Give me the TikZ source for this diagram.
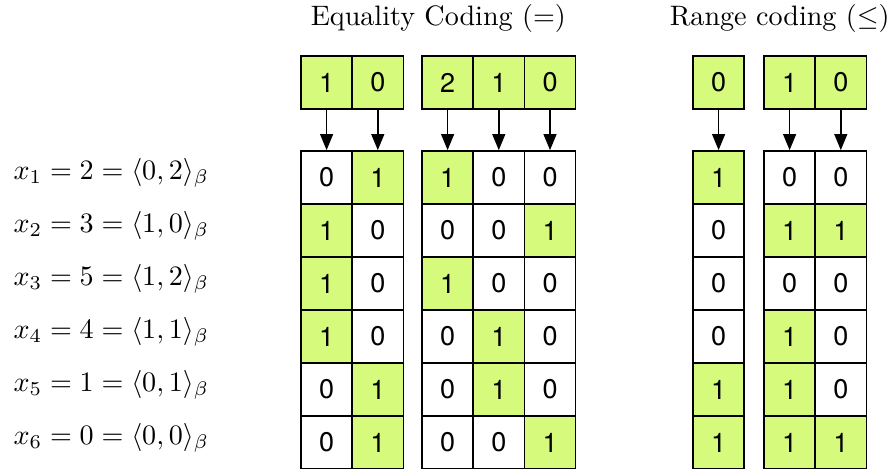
\documentclass[tikz,border=0pt]{standalone}
\usepackage{fontspec}
\setsansfont{TeX Gyre Heros}
\usetikzlibrary{arrows.meta}
\definecolor{bitgreen}{RGB}{214,250,124}

\tikzset{
  cell/.style={draw,line width=0.6pt,minimum width=0.64cm,minimum height=0.6625cm,
    inner sep=0pt,font=\sffamily\fontsize{9.6}{11}\selectfont},
}

\begin{document}
\begin{tikzpicture}[x=1cm,y=1cm,>={Triangle[length=2mm,width=1.6mm]}]
 \useasboundingbox (0,0) rectangle (11.1125,-5.85);
 \node[anchor=base] (eqtitle) at (5.479,-0.3125) {Equality Coding ($=$)};
 \node[anchor=base] (rgtitle) at (9.746,-0.3125) {Range coding ($\leq$)};
 % values and their base-beta digits
 \foreach \row/\val/\hi/\lo in {1/2/0/2,2/3/1/0,3/5/1/2,4/4/1/1,5/1/0/1,6/0/0/0}
   {\node[anchor=base west,inner sep=0pt] (lbl\row) at (0.1625,{-2.24375-0.6625*(\row-1)})
      {$x_{\row}=\val=\langle\hi,\lo\rangle_\beta$};}
 % one column per bitmap: name/centre/header/bits
 \foreach \col/\x/\hd/\bits in {a/4.0825/1/{0,1,1,1,0,0},b/4.7225/0/{1,0,0,0,1,1},
     c/5.595/2/{1,0,1,0,0,0},d/6.235/1/{0,0,0,1,1,0},e/6.875/0/{0,1,0,0,0,1},
     f/8.9825/0/{1,0,0,0,1,1},g/9.87/1/{0,1,0,1,1,1},k/10.51/0/{0,1,0,0,0,1}}
 {
   \node[cell,fill=bitgreen] (hd\col) at (\x,-1.03125) {\hd};
   \foreach \bit [count=\row] in \bits
   {
     \ifnum\bit=1 \def\bfill{bitgreen}\else\def\bfill{white}\fi
     \node[cell,fill=\bfill] (\col\row) at (\x,{-2.21875-0.6625*(\row-1)}) {\bit};
   }
   \draw[->,line width=0.6pt] (hd\col) -- (\col1);
 }
\end{tikzpicture}
\end{document}
